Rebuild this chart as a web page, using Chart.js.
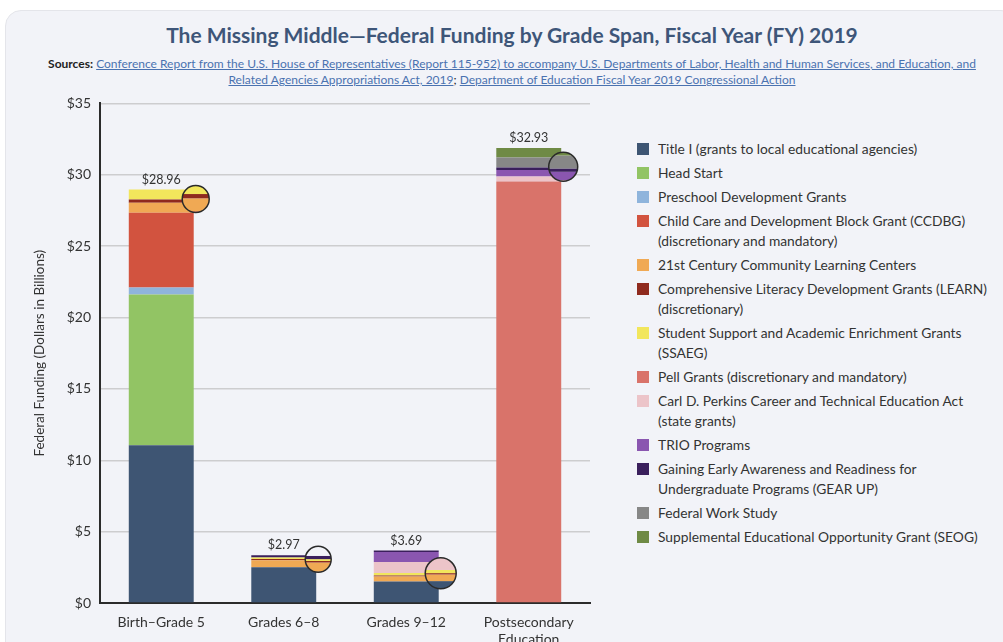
<!DOCTYPE html>
<html>
<head>
<meta charset="utf-8">
<script src="https://cdn.jsdelivr.net/npm/chart.js@4.4.1/dist/chart.umd.min.js"></script>
<style>
  body { margin: 0; background: #fff; width: 1003px; height: 642px; overflow: hidden; position: relative; font-family: Lato, sans-serif; }
  #card { position: absolute; left: 5px; top: 10px; width: 1010px; height: 660px; background: #f2f3f8; border: 1px solid #e4e5ea; border-radius: 16px; }
  #title { position: absolute; left: 12px; width: 1000px; top: 22px; text-align: center; font-weight: bold; font-size: 21px; color: #3e5679; }
  #sources { position: absolute; left: 12px; width: 1000px; top: 56px; text-align: center; font-size: 12px; line-height: 16px; color: #222; white-space: nowrap; }
  #sources a { color: #4a72b0; text-decoration: underline; }
  #wrap { position: absolute; left: 0; top: 86px; width: 600px; height: 556px; }
  #legend { position: absolute; left: 637px; top: 139px; font-size: 13.8px; color: #333; }
  .item { display: flex; align-items: flex-start; margin-bottom: 4px; line-height: 20px; }
  .box { width: 12px; height: 12px; margin-top: 4px; margin-right: 9px; flex: none; }
</style>
</head>
<body>
<div id="card"></div>
<div id="title">The Missing Middle—Federal Funding by Grade Span, Fiscal Year (FY) 2019</div>
<div id="sources"><b>Sources:</b> <a>Conference Report from the U.S. House of Representatives (Report 115-952) to accompany U.S. Departments of Labor, Health and Human Services, and Education, and<br>Related Agencies Appropriations Act, 2019</a>; <a>Department of Education Fiscal Year 2019 Congressional Action</a></div>
<div id="wrap"><canvas id="chart"></canvas></div>
<div id="legend"></div>
<script>
// categories and bar totals (as printed)
const categories = [["Birth–Grade 5"], ["Grades 6–8"], ["Grades 9–12"], ["Postsecondary", "Education"]];
const totalLabels = ["$28.96", "$2.97", "$3.69", "$32.93"];
const yTicks = [0, 5, 10, 15, 20, 25, 30, 35];

// funding in billions, per grade span
const titleI    = [11.05, 2.50, 1.50, 0];
const headStart = [10.56, 0, 0, 0];
const preschool = [0.49, 0, 0, 0];
const ccdbg     = [5.24, 0, 0, 0];
const cclc21    = [0.70, 0.50, 0.36, 0];
const learn     = [0.23, 0.08, 0.07, 0];
const ssaeg     = [0.69, 0.10, 0.17, 0];
const pell      = [0, 0, 0, 29.53];
const perkins   = [0, 0, 0.78, 0.35];
const trio      = [0, 0, 0.70, 0.45];
const gearUp    = [0, 0.17, 0.10, 0.18];
const workStudy = [0, 0, 0, 0.70];
const seog      = [0, 0, 0, 0.66];

const seriesValues = [titleI, headStart, preschool, ccdbg, cclc21, learn, ssaeg, pell, perkins, trio, gearUp, workStudy, seog];
const seriesNames = [
  ["Title I (grants to local educational agencies)"],
  ["Head Start"],
  ["Preschool Development Grants"],
  ["Child Care and Development Block Grant (CCDBG)", "(discretionary and mandatory)"],
  ["21st Century Community Learning Centers"],
  ["Comprehensive Literacy Development Grants (LEARN)", "(discretionary)"],
  ["Student Support and Academic Enrichment Grants", "(SSAEG)"],
  ["Pell Grants (discretionary and mandatory)"],
  ["Carl D. Perkins Career and Technical Education Act", "(state grants)"],
  ["TRIO Programs"],
  ["Gaining Early Awareness and Readiness for", "Undergraduate Programs (GEAR UP)"],
  ["Federal Work Study"],
  ["Supplemental Educational Opportunity Grant (SEOG)"]
];
const seriesColors = ["#3e5573", "#92c464", "#8fb4dc", "#d2533f", "#f0a954", "#8f2a1e", "#f2e65c",
  "#d9736a", "#ecc4c9", "#8a56b0", "#3a1f5c", "#878787", "#6f8a45"];

// magnifier circles: which bar, value at circle centre, value being looked at
const lenses = [
  { bar: 0, at: 28.3, look: 28.0 },
  { bar: 1, at: 3.06, look: 3.17 },
  { bar: 2, at: 2.08, look: 1.92 },
  { bar: 3, at: 30.56, look: 30.6 }
];
const lensRadius = [13.5, 13, 15.5, 14.5];
const lensZoom = 1.3;

// legend
const legendEl = document.getElementById('legend');
seriesNames.forEach((name, i) => {
  const item = document.createElement('div');
  item.className = 'item';
  item.innerHTML = '<span class="box" style="background:' + seriesColors[i] + '"></span><span>' + name.join('<br>') + '</span>';
  legendEl.appendChild(item);
});

function stackTop(index, upTo) {
  let s = 0;
  for (let d = 0; d <= upTo; d++) s += seriesValues[d][index];
  return s;
}

const lensPlugin = {
  id: 'lens',
  afterDatasetsDraw(chart) {
    const ctx = chart.ctx;
    const y = chart.scales.y;
    const meta = chart.getDatasetMeta(0);
    lenses.forEach((l, n) => {
      const el = meta.data[l.bar];
      const cx = el.x + el.width / 2 + 2;
      const cy = y.getPixelForValue(l.at);
      const pl = y.getPixelForValue(l.look);
      const r = lensRadius[n];
      ctx.save();
      ctx.beginPath();
      ctx.arc(cx, cy, r, 0, Math.PI * 2);
      ctx.clip();
      ctx.fillStyle = '#f2f3f8';
      ctx.fillRect(cx - r, cy - r, 2 * r, 2 * r);
      let base = 0;
      seriesValues.forEach((vals, d) => {
        const v = vals[l.bar];
        if (!v) return;
        const y0 = cy + (y.getPixelForValue(base) - pl) * lensZoom;
        const y1 = cy + (y.getPixelForValue(base + v) - pl) * lensZoom;
        ctx.fillStyle = seriesColors[d];
        ctx.fillRect(cx - r, y1, 2 * r, y0 - y1);
        base += v;
      });
      ctx.restore();
      ctx.beginPath();
      ctx.arc(cx, cy, r, 0, Math.PI * 2);
      ctx.lineWidth = 1.5;
      ctx.strokeStyle = '#2a2a2a';
      ctx.stroke();
    });
    // totals above bars
    ctx.save();
    ctx.font = '12.5px Lato';
    ctx.fillStyle = '#333';
    ctx.textAlign = 'center';
    ctx.textBaseline = 'middle';
    totalLabels.forEach((t, i) => {
      const el = meta.data[i];
      const top = y.getPixelForValue(stackTop(i, seriesValues.length - 1));
      ctx.fillText(t, el.x, top - 10);
    });
    ctx.restore();
  }
};

new Chart(document.getElementById('chart'), {
  type: 'bar',
  data: {
    labels: categories,
    datasets: seriesValues.map((vals, i) => ({
      label: seriesNames[i].join(' '),
      data: vals,
      backgroundColor: seriesColors[i],
      borderWidth: 0,
      barPercentage: 0.53,
      categoryPercentage: 1
    }))
  },
  options: {
    responsive: true,
    maintainAspectRatio: false,
    animation: false,
    layout: { padding: { top: 9, right: 10, left: 0, bottom: 0 } },
    plugins: { legend: { display: false }, tooltip: { enabled: false } },
    scales: {
      x: {
        stacked: true,
        grid: { display: false },
        border: { color: '#2b2b2b', width: 2 },
        ticks: { color: '#333', font: { family: 'Lato', size: 14 }, padding: 3, maxRotation: 0 },
        afterFit(scale) { scale.height = 39; }
      },
      y: {
        stacked: true,
        min: 0,
        max: 35,
        afterBuildTicks(scale) { scale.ticks = yTicks.map(v => ({ value: v })); },
        grid: { color: '#cdcdcf', lineWidth: 1.5, drawTicks: false },
        border: { color: '#2b2b2b', width: 2 },
        ticks: { color: '#333', font: { family: 'Lato', size: 14 }, padding: 9, callback: v => '$' + v },
        title: { display: true, text: 'Federal Funding (Dollars in Billions)', color: '#333', font: { family: 'Lato', size: 13.5 }, padding: { top: 32 } },
        afterFit(scale) { scale.width = 100; }
      }
    }
  },
  plugins: [lensPlugin]
});
</script>
</body>
</html>
